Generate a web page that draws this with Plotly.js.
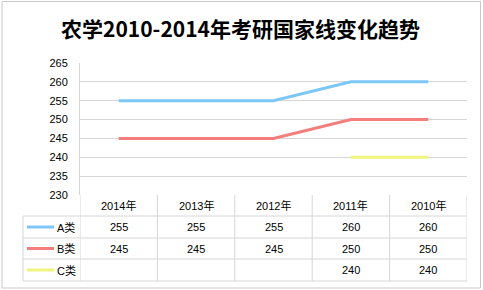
<!DOCTYPE html>
<html>
<head>
<meta charset="utf-8">
<script src="https://cdn.plot.ly/plotly-3.0.1.min.js"></script>
<style>html,body{margin:0;padding:0;background:#fff;}#chart{width:483px;height:290px;}</style>
</head>
<body>
<div id="chart"></div>
<script>
const categories = ['2014年', '2013年', '2012年', '2011年', '2010年'];
const seriesNames = ['A类', 'B类', 'C类'];
const seriesA = [255, 255, 255, 260, 260];
const seriesB = [245, 245, 245, 250, 250];
const seriesC = [null, null, null, 240, 240];
const yTicks = [230, 235, 240, 245, 250, 255, 260, 265];
const titleText = '农学2010-2014年考研国家线变化趋势';

const allSeries = [seriesA, seriesB, seriesC];
const colors = ['#7CC7F6', '#F47E7B', '#EEF57C'];

const W = 483, H = 290;
const L = 80, R = 467, T = 63, B = 195;
const px = x => (x - L) / (R - L);
const py = y => (B - y) / (B - T);

const FONT = '"Liberation Sans", Arial, "Noto Sans CJK SC", sans-serif';
const CJK = '"Noto Sans CJK SC", "Liberation Sans", sans-serif';

const traces = allSeries.map((vals, i) => ({
  type: 'scatter', mode: 'lines',
  x: categories, y: vals, name: seriesNames[i],
  line: {color: colors[i], width: 3},
  connectgaps: false, hoverinfo: 'skip'
}));

const gridC = '#d6d6d6';
const shapes = [];
const annotations = [];
// outer frame
shapes.push({type: 'rect', xref: 'paper', yref: 'paper', x0: px(2), x1: px(480.5), y0: py(1.5), y1: py(288), line: {color: '#c9c9c9', width: 1}});
// table horizontal lines
const rowLines = [216, 238, 259, 281];
rowLines.forEach(y => shapes.push({type: 'line', xref: 'paper', yref: 'paper', x0: px(23), x1: px(R), y0: py(y), y1: py(y), line: {color: gridC, width: 1}}));
// table vertical lines (category boundaries)
for (let k = 0; k <= categories.length; k++) {
  shapes.push({type: 'line', xref: 'x', yref: 'paper', x0: k - 0.5, x1: k - 0.5, y0: py(B), y1: py(281), line: {color: gridC, width: 1}});
}
shapes.push({type: 'line', xref: 'paper', yref: 'paper', x0: px(23), x1: px(23), y0: py(216), y1: py(281), line: {color: gridC, width: 1}});

// header
categories.forEach((c, k) => annotations.push({xref: 'x', yref: 'paper', x: k, y: py(205.5), text: c, showarrow: false, font: {family: FONT, size: 11, color: '#000'}, xanchor: 'center', yanchor: 'middle'}));
const rowCenters = [227, 248.5, 270];
allSeries.forEach((vals, i) => {
  vals.forEach((v, k) => {
    if (v !== null) annotations.push({xref: 'x', yref: 'paper', x: k, y: py(rowCenters[i]), text: String(v), showarrow: false, font: {family: FONT, size: 11, color: '#000'}, xanchor: 'center', yanchor: 'middle'});
  });
  shapes.push({type: 'line', xref: 'paper', yref: 'paper', x0: px(27), x1: px(54), y0: py(rowCenters[i]), y1: py(rowCenters[i]), line: {color: colors[i], width: 3}});
  annotations.push({xref: 'paper', yref: 'paper', x: px(55), y: py(rowCenters[i]), text: seriesNames[i], showarrow: false, font: {family: FONT, size: 11, color: '#000'}, xanchor: 'left', yanchor: 'middle'});
});

const layout = {
  width: W, height: H,
  margin: {l: L, r: W - R, t: T, b: H - B, pad: 0},
  paper_bgcolor: '#fff', plot_bgcolor: '#fff',
  showlegend: false,
  title: {text: '<b>' + titleText + '</b>', x: 240.5 / W, xref: 'container', xanchor: 'center', y: 1 - 30 / H, yref: 'container', yanchor: 'middle', font: {family: CJK, size: 21, color: '#000'}},
  xaxis: {type: 'category', range: [-0.5, categories.length - 0.5], showticklabels: false, showgrid: false, zeroline: false, showline: false, ticks: '', fixedrange: true},
  yaxis: {range: [230, 265], tickvals: yTicks, ticktext: yTicks.map(String), showgrid: true, gridcolor: gridC, gridwidth: 1, zeroline: false, showline: true, linecolor: gridC, linewidth: 1, ticks: '', ticklabelstandoff: 9, tickfont: {family: FONT, size: 11, color: '#000'}, fixedrange: true},
  shapes: shapes, annotations: annotations
};

Plotly.newPlot('chart', traces, layout, {displayModeBar: false, staticPlot: true});
</script>
</body>
</html>
